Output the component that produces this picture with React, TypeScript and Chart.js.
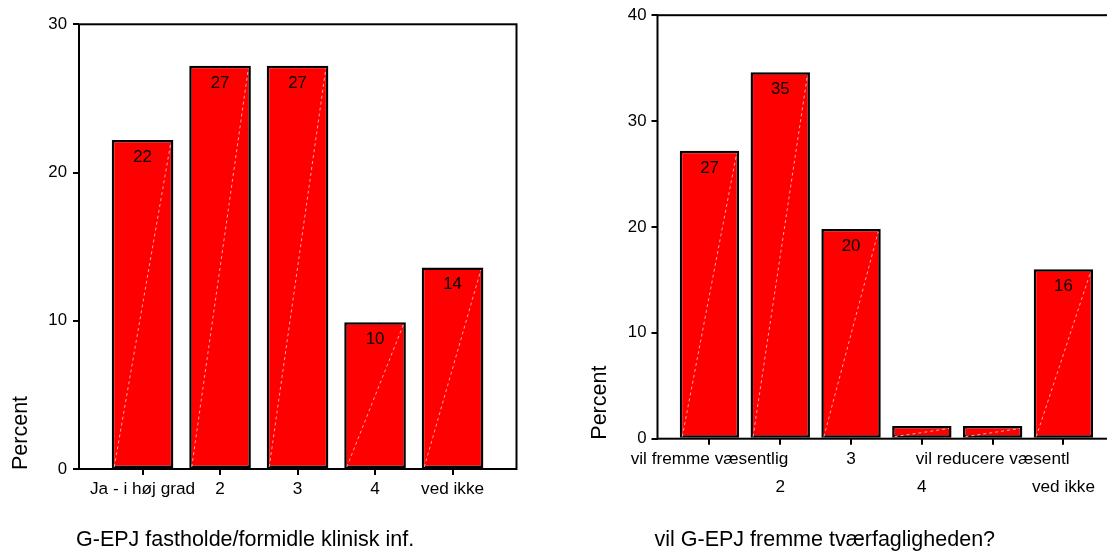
import React, { useEffect, useRef } from 'react';
import { Chart, registerables } from 'chart.js';

Chart.register(...registerables);

// ---------- data ----------
const leftCategories = ['Ja - i høj grad', '2', '3', '4', 'ved ikke'];
const leftValues = [22.2, 27.2, 27.2, 9.9, 13.6];
const leftYMax = 30;
const leftXTitle = 'G-EPJ fastholde/formidle klinisk inf.';

const rightCategories = ['vil fremme væsentlig', '2', '3', '4', 'vil reducere væsentl', 'ved ikke'];
const rightValues = [27.2, 34.6, 19.8, 1.2, 1.2, 16.0];
const rightYMax = 40;
const rightXTitle = 'vil G-EPJ fremme tværfagligheden?';

const yTitle = 'Percent';
const yStep = 10;

const FONT = '"Liberation Sans", Arial, Helvetica, sans-serif';

type Spec = {
  categories: string[];
  values: number[];
  yMax: number;
  xTitle: string;
  xMin: number;
  xMax: number;
  yWidth: number;
  xHeight: number;
  padTop: number;
  padRight: number;
  barPct: number;
  yTickPad: number;
  stagger: boolean;
};

function makeChart(canvas: HTMLCanvasElement, s: Spec) {
  const decor = {
    id: 'decor',
    afterDatasetsDraw(chart: any) {
      const ctx = chart.ctx as CanvasRenderingContext2D;
      const meta = chart.getDatasetMeta(0);
      ctx.save();
      meta.data.forEach((bar: any, i: number) => {
        const p = bar.getProps(['x', 'y', 'base', 'width'], true);
        const l = p.x - p.width / 2 + 2.5;
        const r = p.x + p.width / 2 - 2.5;
        ctx.strokeStyle = 'rgba(255,175,175,0.95)';
        ctx.lineWidth = 1;
        ctx.setLineDash([3, 3]);
        ctx.beginPath();
        ctx.moveTo(l, p.base - 1);
        ctx.lineTo(r, p.y + 2.5);
        ctx.stroke();
        ctx.setLineDash([]);
        if (p.base - p.y > 30) {
          ctx.fillStyle = '#000';
          ctx.font = `16.8px ${FONT}`;
          ctx.textAlign = 'center';
          ctx.textBaseline = 'alphabetic';
          ctx.fillText(String(Math.round(s.values[i])), p.x, p.y + 22);
        }
      });
      const a = chart.chartArea;
      ctx.strokeStyle = '#000';
      ctx.lineWidth = 2;
      ctx.strokeRect(a.left, a.top, a.right - a.left, a.bottom - a.top);

      // axis titles
      ctx.fillStyle = '#000';
      ctx.font = `21.5px ${FONT}`;
      ctx.textAlign = 'left';
      ctx.textBaseline = 'alphabetic';
      ctx.fillText(s.xTitle, a.left - 3, 546);
      ctx.save();
      ctx.translate(a.left - 51.7, a.bottom + 1);
      ctx.rotate(-Math.PI / 2);
      ctx.fillText(yTitle, 0, 0);
      ctx.restore();
      ctx.restore();
    },
  };

  return new Chart(canvas, {
    type: 'bar',
    data: {
      datasets: [
        {
          data: s.values.map((v, i) => ({ x: i + 1, y: v })) as any,
          backgroundColor: '#ff0000',
          borderColor: '#000',
          borderWidth: 2.5,
          borderSkipped: false,
          barPercentage: s.barPct,
          categoryPercentage: 1,
        },
      ],
    },
    options: {
      responsive: false,
      animation: false,
      devicePixelRatio: 1,
      layout: { padding: { left: 0, top: s.padTop, right: s.padRight, bottom: 0 } },
      plugins: { legend: { display: false }, tooltip: { enabled: false } },
      scales: {
        x: {
          type: 'linear',
          min: s.xMin,
          max: s.xMax,
          offset: false,
          afterBuildTicks: (axis: any) => {
            axis.ticks = s.categories.map((_, i) => ({ value: i + 1 }));
          },
          afterFit: (scale: any) => {
            scale.height = s.xHeight;
          },
          grid: {
            display: true,
            offset: false,
            drawOnChartArea: false,
            drawTicks: true,
            tickLength: 6,
            color: '#000',
            lineWidth: 2,
          },
          border: { display: false },
          ticks: {
            autoSkip: false,
            maxRotation: 0,
            minRotation: 0,
            includeBounds: false,
            padding: 0,
            color: '#000',
            font: { family: FONT, size: 17.2, lineHeight: 1.65 },
            callback: (value: any) => {
              const i = Math.round(Number(value)) - 1;
              const lab = s.categories[i] ?? '';
              if (s.stagger && i % 2 === 1) return ['', lab];
              return lab;
            },
          },
        },
        y: {
          type: 'linear',
          min: 0,
          max: s.yMax,
          afterFit: (scale: any) => {
            scale.width = s.yWidth;
          },
          grid: {
            display: true,
            drawOnChartArea: false,
            drawTicks: true,
            tickLength: 6,
            color: '#000',
            lineWidth: 2,
          },
          border: { display: false },
          ticks: {
            stepSize: yStep,
            padding: s.yTickPad,
            color: '#000',
            font: { family: FONT, size: 16.8 },
          },
        },
      },
    },
    plugins: [decor],
  } as any);
}

function ChartCanvas({ spec, left, width }: { spec: Spec; left: number; width: number }) {
  const ref = useRef<HTMLCanvasElement | null>(null);
  useEffect(() => {
    if (!ref.current) return;
    const c = makeChart(ref.current, spec);
    return () => c.destroy();
  }, []);
  return (
    <canvas
      ref={ref}
      width={width}
      height={551}
      style={{ position: 'absolute', left, top: 0, width, height: 551 }}
    />
  );
}

const leftSpec: Spec = {
  categories: leftCategories,
  values: leftValues,
  yMax: leftYMax,
  xTitle: leftXTitle,
  xMin: 0.18,
  xMax: 5.825,
  yWidth: 79,
  xHeight: 82,
  padTop: 24.3,
  padRight: 540 - 516.5,
  barPct: 0.795,
  yTickPad: 6,
  stagger: false,
};

const rightSpec: Spec = {
  categories: rightCategories,
  values: rightValues,
  yMax: rightYMax,
  xTitle: rightXTitle,
  xMin: 0.266,
  xMax: 6.734,
  yWidth: 104.5,
  xHeight: 551 - 438.7,
  padTop: 15.2,
  padRight: 17.6,
  barPct: 0.839,
  yTickPad: 5,
  stagger: true,
};

export default function App() {
  return (
    <div
      style={{
        position: 'absolute',
        left: 0,
        top: 0,
        width: 1107,
        height: 551,
        overflow: 'hidden',
        background: '#fff',
      }}
    >
      <ChartCanvas spec={leftSpec} left={0} width={540} />
      <ChartCanvas spec={rightSpec} left={553} width={580} />
    </div>
  );
}
